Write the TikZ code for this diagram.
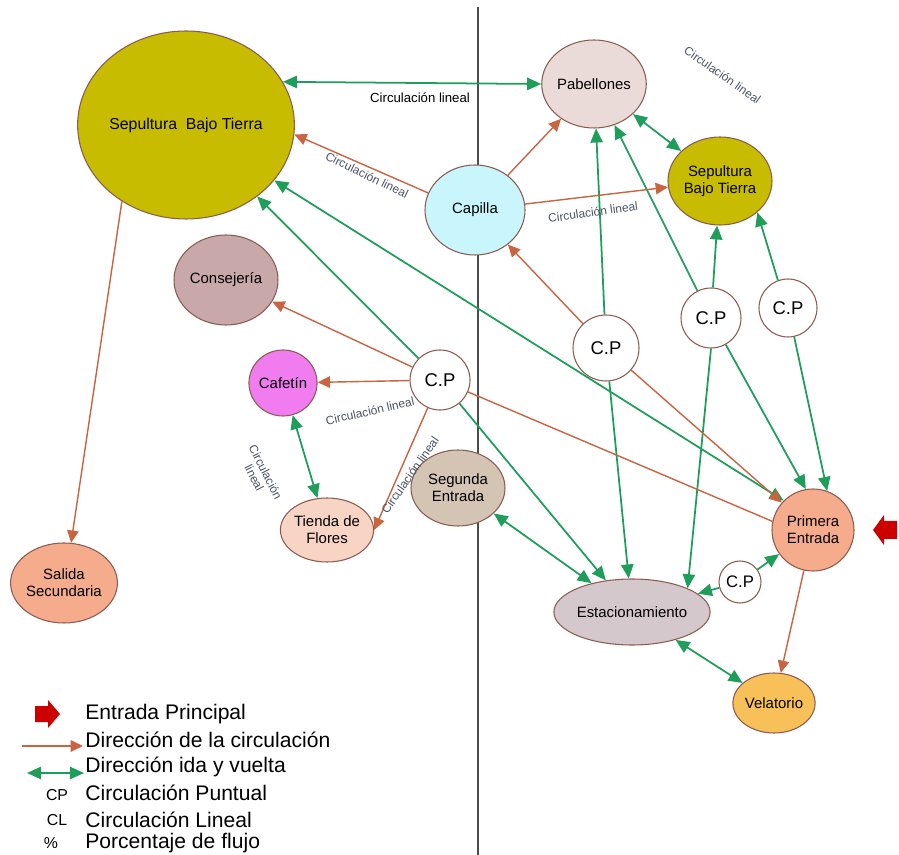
\documentclass[tikz,border=0pt]{standalone}
\usepackage{fontspec}
\setmainfont{Liberation Sans}
\usepackage{tikz}
\usetikzlibrary{shapes.geometric,arrows.meta}
\definecolor{edge}{HTML}{8C5A50}
\definecolor{flowc}{HTML}{C86440}
\definecolor{greenc}{HTML}{1E9E5A}
\definecolor{labc}{HTML}{4A5266}
\definecolor{sepul}{HTML}{C8BC00}
\definecolor{pabc}{HTML}{EADBD8}
\definecolor{capc}{HTML}{C8F6FC}
\definecolor{consc}{HTML}{C8A8A8}
\definecolor{cafec}{HTML}{F07CF0}
\definecolor{tiendac}{HTML}{F8D4C4}
\definecolor{segc}{HTML}{D4C4B4}
\definecolor{salc}{HTML}{F4AC8C}
\definecolor{estc}{HTML}{D4C8CC}
\definecolor{velc}{HTML}{F8C058}
\definecolor{redc}{HTML}{CC0000}
\tikzset{
  zone/.style={ellipse, draw=edge, line width=0.6pt, inner sep=0pt, align=center, font=\fontsize{8.5}{9.5}\selectfont},
  cpnode/.style={circle, draw=edge, fill=white, line width=0.6pt, inner sep=0pt, font=\fontsize{10.5}{12}\selectfont},
  flow/.style={draw=flowc, line width=0.8pt, -{Triangle[length=7pt,width=6.5pt]}},
  plain/.style={draw=flowc, line width=0.8pt},
  twoway/.style={draw=greenc, line width=1pt, {Triangle[length=8pt,width=7pt]}-{Triangle[length=8pt,width=7pt]}},
  oneway/.style={draw=greenc, line width=1pt, -{Triangle[length=8pt,width=7pt]}},
  lab/.style={text=labc, inner sep=1pt, font=\fontsize{6.8}{7.2}\selectfont, align=center},
  labk/.style={text=black, inner sep=1pt, font=\fontsize{7.5}{8}\selectfont},
  leg/.style={anchor=west, inner sep=0pt, font=\fontsize{12}{13}\selectfont},
  key/.style={inner sep=0pt, font=\fontsize{9}{10}\selectfont},
}
\begin{document}
\begin{tikzpicture}
  \useasboundingbox (0,0) rectangle (17.98,-17.1);

  % dividing line
  \coordinate (top) at (9.56,-0.14);
  \coordinate (bot) at (9.56,-17.1);
  \draw[black!70, line width=0.6pt] (top) -- (bot);

  % areas
  \node[zone, fill=sepul, minimum width=4.08cm, minimum height=3.76cm, font=\fontsize{9}{10}\selectfont] (sbt) at (3.72,-2.5) {Sepultura\ \ Bajo Tierra};
  \node[zone, fill=pabc, minimum width=2.08cm, minimum height=1.76cm] (pab) at (11.88,-1.68) {Pabellones};
  \node[zone, fill=sepul, minimum width=2.08cm, minimum height=1.76cm] (sbtb) at (14.4,-3.62) {Sepultura\\Bajo Tierra};
  \node[zone, fill=capc, minimum width=2.0cm, minimum height=1.8cm] (cap) at (9.5,-4.2) {Capilla};
  \node[zone, fill=consc, minimum width=2.08cm, minimum height=1.8cm] (cons) at (4.52,-5.6) {Consejería};
  \node[zone, fill=cafec, minimum width=1.32cm, minimum height=1.32cm] (cafe) at (5.66,-7.66) {Cafetín};
  \node[zone, fill=tiendac, minimum width=1.28cm, minimum height=1.28cm] (tienda) at (6.54,-10.6) {Tienda de\\Flores};
  \node[zone, fill=segc, minimum width=1.88cm, minimum height=1.52cm] (segunda) at (9.16,-9.76) {Segunda\\Entrada};
  \node[zone, fill=salc, minimum width=1.6cm, minimum height=1.6cm] (salida) at (1.28,-11.66) {Salida\\Secundaria};
  \node[zone, fill=salc, minimum width=1.64cm, minimum height=1.64cm] (primera) at (16.26,-10.6) {Primera\\Entrada};
  \node[zone, fill=estc, minimum width=2.68cm, minimum height=1.32cm] (estac) at (12.64,-12.24) {Estacionamiento};
  \node[zone, fill=velc, minimum width=1.2cm, minimum height=1.2cm] (velat) at (15.48,-14.06) {Velatorio};

  % circulation points
  \node[cpnode, minimum size=1.2cm] (cpa) at (8.8,-7.6) {C.P};
  \node[cpnode, minimum size=1.32cm] (cpb) at (12.12,-6.96) {C.P};
  \node[cpnode, minimum size=1.2cm] (cpc) at (14.22,-6.36) {C.P};
  \node[cpnode, minimum size=1.16cm] (cpd) at (15.76,-6.16) {C.P};
  \node[cpnode, minimum size=0.84cm, font=\fontsize{9.5}{10}\selectfont] (cpe) at (14.8,-11.64) {C.P};

  % two way
  \draw[twoway] (sbt.24) -- (pab.west);
  \draw[twoway] (pab) -- (sbtb);
  \draw[twoway] (cafe) -- (tienda);
  \draw[twoway] (segunda) -- (estac);
  \draw[twoway] (estac) -- (velat);
  \draw[twoway] (sbt) -- (primera.135);

  % one way
  \draw[oneway] (cpa) -- (sbt);
  \draw[oneway] (cpa) -- (estac);
  \draw[oneway] (cpb) -- (pab);
  \draw[oneway] (cpb) -- (estac);
  \draw[oneway] (cpc) -- (pab);
  \draw[oneway] (cpc) -- (sbtb);
  \draw[oneway] (cpc.south) -- (estac.north east);
  \draw[oneway] (cpc) -- (primera.100);
  \draw[oneway] (cpd.110) -- (sbtb.-40);
  \draw[oneway] (cpd) -- (primera.70);
  \draw[oneway] (cpe) -- (estac);
  \draw[oneway] (cpe) -- (primera);

  % direction of circulation
  \draw[flow] (cap.160) -- (sbt.-5);
  \draw[flow] (cap) -- (pab);
  \draw[flow] (cap) -- (sbtb);
  \draw[flow] (cpb) -- (cap);
  \draw[flow] (cpb) -- (primera);
  \draw[flow] (cpa) -- (cons);
  \draw[flow] (cpa) -- (cafe);
  \draw[flow] (cpa) -- (tienda.east);
  \draw[plain] (cpa) -- (primera.168);
  \draw[flow] (sbt.-130) -- (salida.80);
  \draw[flow] (primera) -- (velat);

  % labels
  \node[labk] (lb1) at (8.4,-1.96) {Circulación lineal};
  \node[lab, rotate=-35] (lb2) at (14.45,-1.5) {Circulación lineal};
  \node[lab, rotate=-26] (lb3) at (7.34,-3.5) {Circulación lineal};
  \node[lab, rotate=8] (lb4) at (11.86,-4.24) {Circulación lineal};
  \node[lab, rotate=13] (lb5) at (7.4,-8.22) {Circulación lineal};
  \node[lab, rotate=55] (lb6) at (8.2,-9.5) {Circulación lineal};
  \node[lab, rotate=-63] (lb7) at (5.2,-9.5) {Circulación\\lineal};

  % main entrance
  \fill[redc] (17.46,-10.6) -- (17.68,-10.3) -- (17.68,-10.42) -- (17.94,-10.42)
    -- (17.94,-10.78) -- (17.68,-10.78) -- (17.68,-10.9) -- cycle;

  % legend
  \fill[redc] (1.2,-14.28) -- (0.96,-14.0) -- (0.96,-14.12) -- (0.7,-14.12)
    -- (0.7,-14.44) -- (0.96,-14.44) -- (0.96,-14.56) -- cycle;
  \coordinate (o1) at (0.44,-14.92);
  \coordinate (o2) at (1.66,-14.92);
  \draw[flow] (o1) -- (o2);
  \coordinate (g1) at (0.54,-15.46);
  \coordinate (g2) at (1.68,-15.46);
  \draw[twoway] (g1) -- (g2);
  \node[key] (k1) at (1.14,-15.9) {CP};
  \node[key] (k2) at (1.14,-16.4) {CL};
  \node[key] (k3) at (1.02,-16.86) {\%};
  \node[leg] (t1) at (1.7,-14.28) {Entrada Principal};
  \node[leg] (t2) at (1.7,-14.8) {Dirección de la circulación};
  \node[leg] (t3) at (1.7,-15.34) {Dirección ida y vuelta};
  \node[leg] (t4) at (1.7,-15.86) {Circulación Puntual};
  \node[leg] (t5) at (1.7,-16.4) {Circulación Lineal};
  \node[leg] (t6) at (1.7,-16.86) {Porcentaje de flujo};
\end{tikzpicture}
\end{document}
